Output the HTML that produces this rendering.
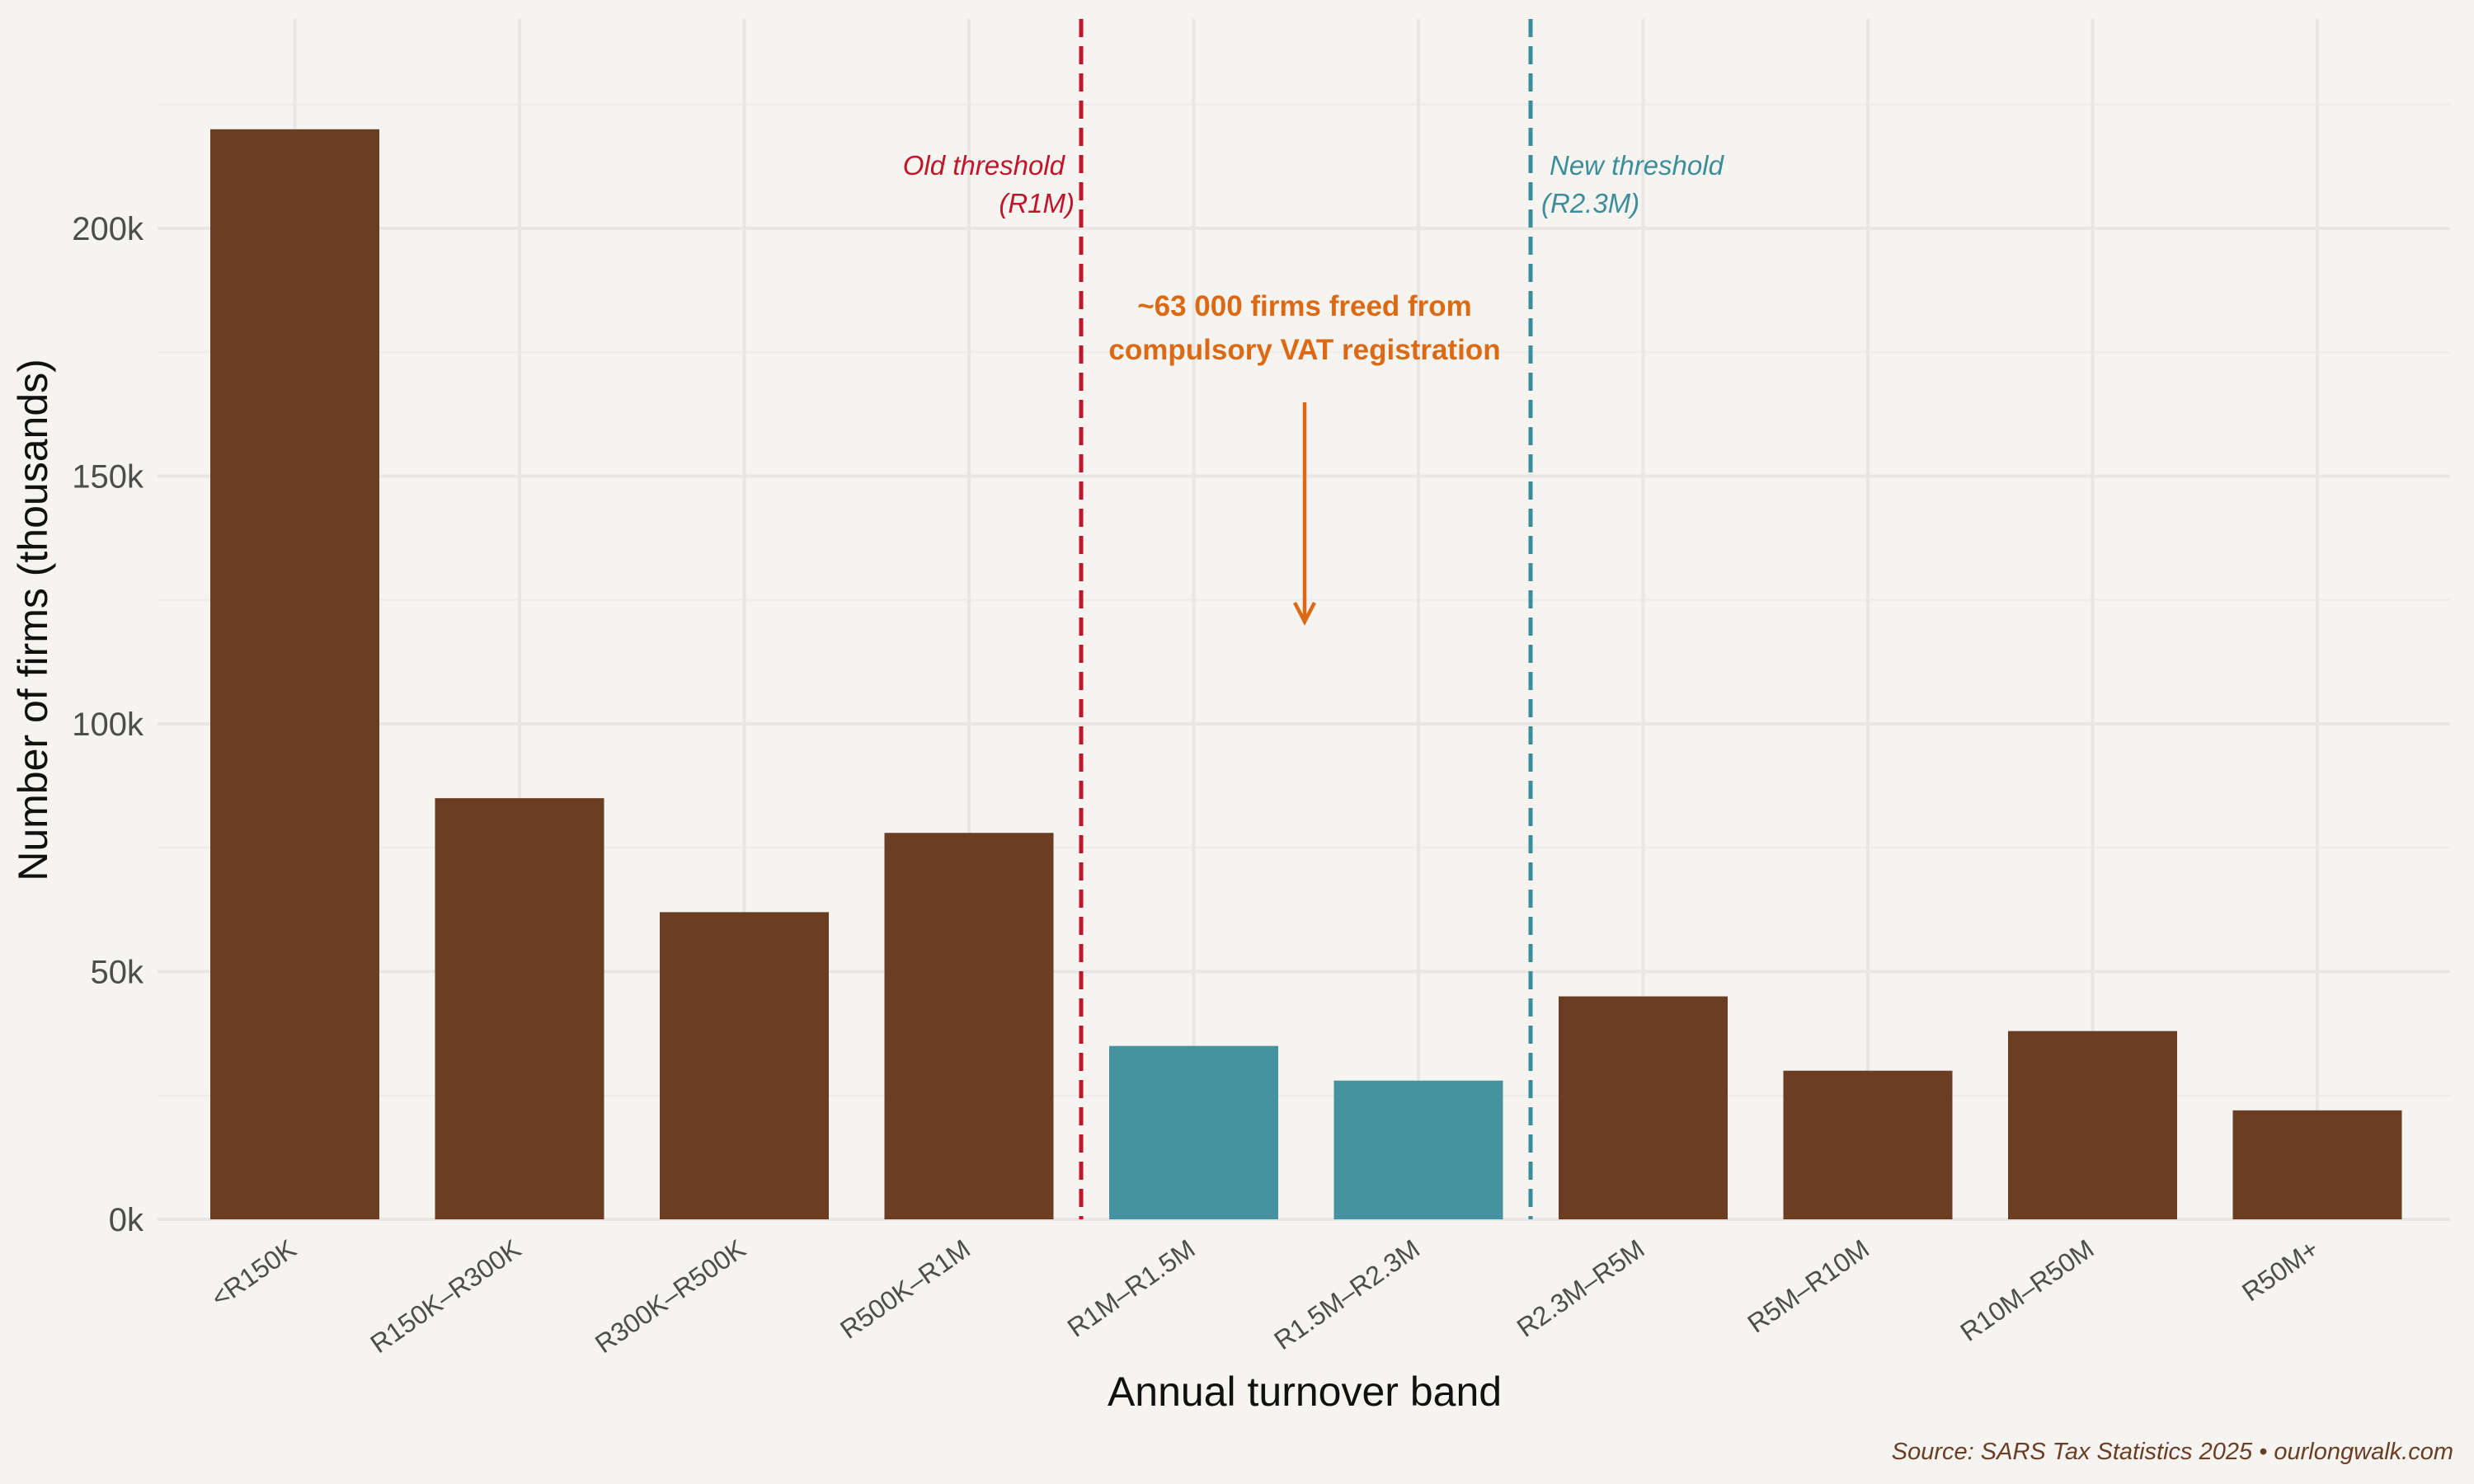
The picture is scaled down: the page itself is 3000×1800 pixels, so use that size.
<!DOCTYPE html>
<html><head><meta charset="utf-8"><style>
html,body{margin:0;padding:0;background:#f6f4f0;}
svg{display:block;font-family:"Liberation Sans",Arial,sans-serif;}
</style></head><body>
<svg id="chart" width="3000" height="1800" viewBox="0 0 3000 1800" xmlns="http://www.w3.org/2000/svg">
<rect x="0" y="0" width="3000" height="1800" fill="#f6f4f0"/>
<g id="grid"></g>
<g id="bars"></g>
<g id="yticks"></g>
<g id="xticks"></g>
<line x1="1311" y1="23" x2="1311" y2="1479" stroke="#c0152a" stroke-width="5" stroke-dasharray="22,11"/>
<line x1="1856" y1="23" x2="1856" y2="1479" stroke="#3d8e9a" stroke-width="5" stroke-dasharray="22,11"/>
<g font-style="italic" font-size="33" fill="#c0152a">
<text x="1291" y="212" text-anchor="end">Old threshold</text>
<text x="1303" y="258" text-anchor="end">(R1M)</text>
</g>
<g font-style="italic" font-size="33" fill="#3d8e9a">
<text x="1879" y="212">New threshold</text>
<text x="1869" y="258">(R2.3M)</text>
</g>
<g font-weight="bold" font-size="35" fill="#dc6a14" text-anchor="middle">
<text x="1582" y="383">~63 000 firms freed from</text>
<text x="1582" y="436">compulsory VAT registration</text>
</g>
<g stroke="#dc6a14" stroke-width="4.5" fill="none">
<line x1="1582" y1="488" x2="1582" y2="754"/>
<polyline points="1570,731 1582,754 1594,731"/>
</g>
<text x="44" y="752" transform="rotate(-90 44 752)" text-anchor="middle" dominant-baseline="middle" font-size="50" fill="#111">Number of firms (thousands)</text>
<text x="1582" y="1705" text-anchor="middle" font-size="50" fill="#111">Annual turnover band</text>
<text x="2975" y="1770" text-anchor="end" font-size="29" font-style="italic" fill="#6b3d23">Source: SARS Tax Statistics 2025 • ourlongwalk.com</text>
</svg>
<script>
const categories = ["<R150K","R150K–R300K","R300K–R500K","R500K–R1M","R1M–R1.5M","R1.5M–R2.3M","R2.3M–R5M","R5M–R10M","R10M–R50M","R50M+"];
const firmsK = [220, 85, 62, 78, 35, 28, 45, 30, 38, 22];
const freedBand = [false, false, false, false, true, true, false, false, false, false];
const yTicks = [0, 50, 100, 150, 200];
const yTickLabels = ["0k","50k","100k","150k","200k"];
const yMinor = [25, 75, 125, 175, 225];

const NS = "http://www.w3.org/2000/svg";
const plotL = 191, plotR = 2971, plotT = 23;
const y0 = 1479, pxPerK = (1479 - 277) / 200;
function yScale(v){ return y0 - v * pxPerK; }
const x0 = 357.5, step = 272.5, barW = 205;
function xScale(i){ return x0 + step * i; }
function mk(tag, attrs, parent){ const e = document.createElementNS(NS, tag); for (const k in attrs) e.setAttribute(k, attrs[k]); parent.appendChild(e); return e; }

const grid = document.getElementById("grid");
yMinor.forEach(v => {
  const l = mk("line", {x1: plotL, x2: plotR, y1: yScale(v), y2: yScale(v), stroke: "#ecebe8", "stroke-width": 2}, grid);
  
  
});
yTicks.forEach(v => {
  const l = mk("line", {x1: plotL, x2: plotR, y1: yScale(v), y2: yScale(v), stroke: "#e8e7e5", "stroke-width": 4}, grid);
  
  
});
categories.forEach((c, i) => {
  const l = mk("line", {x1: xScale(i), x2: xScale(i), y1: plotT, y2: y0, stroke: "#e8e7e5", "stroke-width": 4}, grid);
  
  
});

const bars = document.getElementById("bars");
firmsK.forEach((v, i) => {
  const r = mk("rect", {x: xScale(i) - barW/2, y: yScale(v), width: barW, height: y0 - yScale(v), fill: freedBand[i] ? "#4592a0" : "#6b3d23"}, bars);
  
  
});

const yt = document.getElementById("yticks");
yTicks.forEach((v, i) => {
  const t = mk("text", {x: 174, y: yScale(v) + 14, "text-anchor": "end", "font-size": 40, fill: "#4d4d4d"}, yt);
  t.textContent = yTickLabels[i];
  
  
});

const xt = document.getElementById("xticks");
categories.forEach((c, i) => {
  const x = xScale(i) + 4, y = 1520;
  const t = mk("text", {x: x, y: y, "text-anchor": "end", "font-size": 32, fill: "#4d4d4d", transform: "rotate(-35 " + x + " " + y + ")"}, xt);
  t.textContent = c;
  
  
});
</script>
</body></html>
